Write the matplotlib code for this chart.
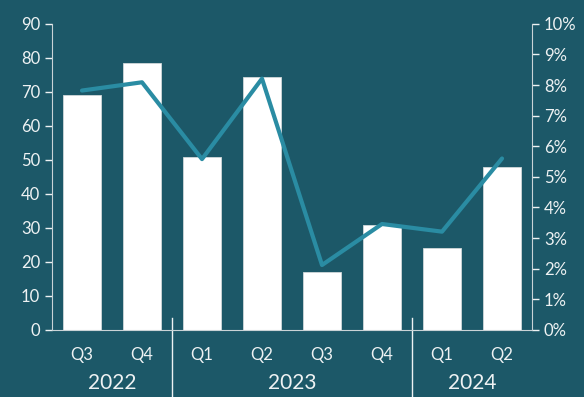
import matplotlib
matplotlib.use("Agg")
import matplotlib.pyplot as plt
import numpy as np

# values
quarters = ["Q3", "Q4", "Q1", "Q2", "Q3", "Q4", "Q1", "Q2"]
years = ["2022", "2023", "2024"]
year_spans = [(0, 1), (2, 5), (6, 7)]
volume = [69.2, 78.6, 50.9, 74.3, 17.1, 30.7, 24.0, 48.0]
rate_pct = [7.82, 8.09, 5.58, 8.21, 2.12, 3.46, 3.21, 5.60]

bg = "#1c5868"
fg = "#eef2f3"
line_col = "#2a8ca3"

plt.rcParams["font.family"] = ["Lato", "DejaVu Sans"]

fig = plt.figure(figsize=(5.84, 3.97), dpi=100, facecolor=bg)
ax = fig.add_axes([0.089, 0.169, 0.822, 0.771], facecolor=bg)
ax2 = ax.twinx()

x = np.arange(len(quarters))
ax.bar(x, volume, width=0.62, color="white", edgecolor="#d0d8da", linewidth=0.6, zorder=2)
ax2.plot(x, rate_pct, color=line_col, linewidth=3, solid_capstyle="round", zorder=3)

ax.set_xlim(-0.5, len(quarters) - 0.5)
ax.set_ylim(0, 90)
ax.set_yticks(np.arange(0, 91, 10))
ax2.set_ylim(0, 10)
ax2.set_yticks(np.arange(0, 11, 1))
ax2.set_yticklabels([f"{v}%" for v in range(11)])

for a in (ax, ax2):
    a.spines["top"].set_visible(False)
    a.tick_params(colors=fg, labelsize=12, length=5, width=1)
ax.spines["left"].set_color("#c9d3d6")
ax.spines["bottom"].set_color("#c9d3d6")
ax.spines["right"].set_visible(False)
ax2.spines["left"].set_visible(False)
ax2.spines["bottom"].set_visible(False)
ax2.spines["right"].set_color("#c9d3d6")

ax.set_xticks(x)
ax.set_xticklabels(quarters)
ax.tick_params(axis="x", length=0, pad=12)

# year group labels and separators
trans = ax.get_xaxis_transform()
for name, (a, b) in zip(years, year_spans):
    ax.text((a + b) / 2, -0.175, name, transform=trans, ha="center", va="center",
            color=fg, fontsize=15, clip_on=False)
for sep in (1.5, 5.5):
    ax.plot([sep, sep], [0.04, -0.3], transform=trans, color=fg, linewidth=1,
            clip_on=False)

fig.savefig("out.png", dpi=100, facecolor=bg)
